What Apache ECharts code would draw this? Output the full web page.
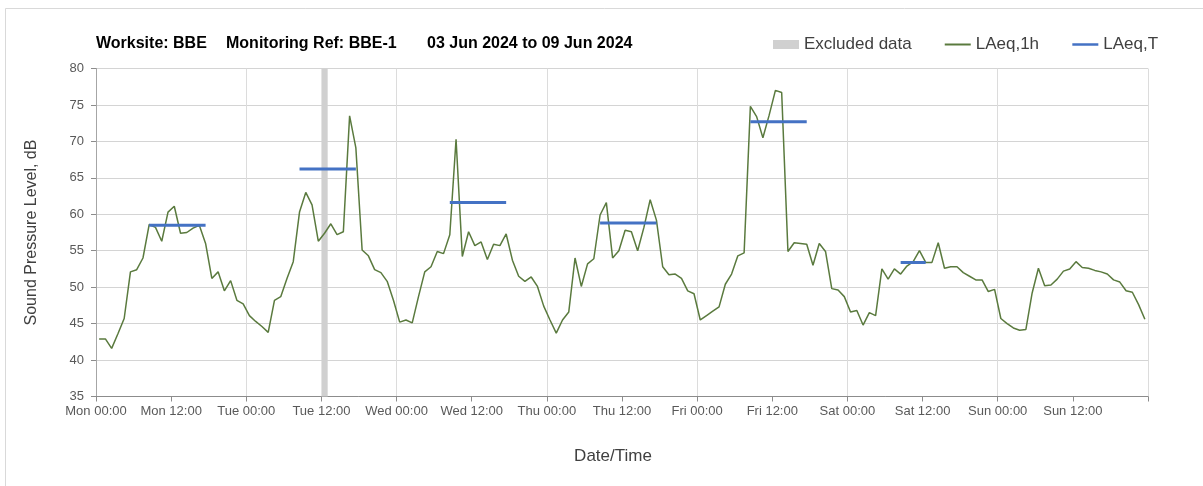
<!DOCTYPE html>
<html>
<head>
<meta charset="utf-8">
<title>BBE-1 noise monitoring</title>
<script src="https://cdn.jsdelivr.net/npm/echarts@6/dist/echarts.min.js"></script>
<style>
  html, body { margin: 0; padding: 0; background: #ffffff; }
  #chart { width: 1203px; height: 486px; }
</style>
</head>
<body>
<div id="chart"></div>
<script>
// Axis labels every 12 hours, counted from Mon 00:00
const tickLabels = [
  'Mon 00:00', 'Mon 12:00', 'Tue 00:00', 'Tue 12:00', 'Wed 00:00', 'Wed 12:00',
  'Thu 00:00', 'Thu 12:00', 'Fri 00:00', 'Fri 12:00', 'Sat 00:00', 'Sat 12:00',
  'Sun 00:00', 'Sun 12:00'
];

// Hourly LAeq,1h (dB), one value per hour from Mon 00:00 to Sun 23:00
const laeqMon = [42.9, 42.9, 41.6, 43.6, 45.7, 52.1, 52.4, 54.0, 58.6, 58.2, 56.3, 60.3,
                 61.1, 57.4, 57.5, 58.1, 58.5, 56.0, 51.2, 52.1, 49.5, 50.9, 48.2, 47.7];
const laeqTue = [46.1, 45.3, 44.6, 43.8, 48.2, 48.7, 51.2, 53.5, 60.3, 63.0, 61.3, 56.3,
                 57.4, 58.7, 57.2, 57.6, 73.5, 69.1, 55.1, 54.3, 52.4, 52.0, 50.8, 48.2];
const laeqWed = [45.2, 45.5, 45.1, 48.7, 52.1, 52.8, 54.9, 54.6, 57.2, 70.3, 54.2, 57.6,
                 55.7, 56.2, 53.8, 55.9, 55.7, 57.3, 53.7, 51.5, 50.8, 51.4, 50.1, 47.4];
const laeqThu = [45.5, 43.7, 45.5, 46.6, 54.0, 50.1, 53.2, 53.9, 59.9, 61.6, 54.0, 55.0,
                 57.8, 57.6, 55.0, 58.2, 62.0, 59.2, 52.8, 51.7, 51.8, 51.2, 49.5, 49.1];
const laeqFri = [45.5, 46.1, 46.7, 47.3, 50.4, 51.8, 54.3, 54.7, 74.8, 73.4, 70.5, 73.6,
                 77.0, 76.7, 54.9, 56.1, 56.0, 55.9, 53.0, 56.0, 54.9, 49.8, 49.6, 48.7];
const laeqSat = [46.6, 46.8, 44.8, 46.5, 46.1, 52.5, 51.1, 52.5, 51.8, 52.9, 53.5, 55.0,
                 53.4, 53.4, 56.1, 52.6, 52.8, 52.8, 52.0, 51.5, 51.0, 51.0, 49.4, 49.7];
const laeqSun = [45.7, 45.0, 44.4, 44.1, 44.2, 49.2, 52.6, 50.2, 50.3, 51.1, 52.2, 52.5,
                 53.5, 52.7, 52.6, 52.3, 52.1, 51.8, 51.0, 50.7, 49.5, 49.3, 47.6, 45.6];

// Daytime LAeq,T periods: first and last hour index, and the level (dB)
const periodStart = [8, 32, 56, 80, 104, 128];
const periodEnd   = [17, 41, 65, 89, 113, 132];
const laeqT       = [58.5, 66.2, 61.6, 58.8, 72.7, 53.4];

// Excluded data windows, hours from Mon 00:00
const excludedFrom = [36];
const excludedTo   = [37];

const laeq1h = [].concat(laeqMon, laeqTue, laeqWed, laeqThu, laeqFri, laeqSat, laeqSun);

// each hourly value is plotted at the middle of its hour
const hourlyData = laeq1h.map((v, i) => [i + 0.5, v]);

const FONT = 'Liberation Sans';
const GREEN = '#5a7a3e';
const BLUE = '#4472c4';
const GREY = '#d0d0d0';

const periodSeries = laeqT.map((v, k) => {
  const pts = [];
  for (let h = periodStart[k]; h <= periodEnd[k]; h++) pts.push([h + 0.5, v]);
  return {
    name: 'LAeq,T',
    type: 'line',
    data: pts,
    symbol: 'none',
    silent: true,
    z: 4,
    itemStyle: { color: BLUE },
    lineStyle: { color: BLUE, width: 3, cap: 'butt' }
  };
});

const chart = echarts.init(document.getElementById('chart'), null, { renderer: 'canvas' });

const titleStyle = { fontFamily: FONT, fontSize: 16, fontWeight: 'bold', color: '#000000' };

chart.setOption({
  animation: false,
  backgroundColor: '#ffffff',
  title: [
    { text: 'Worksite: BBE', left: 91, top: 31, textStyle: titleStyle },
    { text: 'Monitoring Ref: BBE-1', left: 221, top: 31, textStyle: titleStyle },
    { text: '03 Jun 2024 to 09 Jun 2024', left: 422, top: 31, textStyle: titleStyle }
  ],
  graphic: [{
    type: 'rect',
    shape: { x: 5.5, y: 8.5, width: 1220, height: 500 },
    style: { fill: 'none', stroke: '#d9d9d9', lineWidth: 1 },
    silent: true
  }],
  legend: {
    left: 768,
    top: 31,
    itemWidth: 26,
    itemHeight: 9,
    itemGap: 32,
    textStyle: { fontFamily: FONT, fontSize: 17, color: '#404040' },
    data: [
      { name: 'Excluded data', icon: 'rect', itemStyle: { color: GREY } },
      { name: 'LAeq,1h', itemStyle: { opacity: 0 } },
      { name: 'LAeq,T', itemStyle: { opacity: 0 }, lineStyle: { width: 2.5 } }
    ]
  },
  grid: { left: 96, top: 68.5, width: 1052, height: 328, containLabel: false },
  xAxis: [{
    type: 'value',
    min: 0,
    max: 168,
    interval: 12,
    name: 'Date/Time',
    nameLocation: 'middle',
    nameGap: 51,
    nameTextStyle: { fontFamily: FONT, fontSize: 17, color: '#404040', padding: [0, 18, 0, 0] },
    axisLine: { show: true, onZero: false, lineStyle: { color: '#8c8c8c', width: 1 } },
    axisTick: { show: true, length: 5, lineStyle: { color: '#8c8c8c' } },
    axisLabel: {
      margin: 8,
      fontFamily: FONT,
      fontSize: 13,
      color: '#595959',
      formatter: v => tickLabels[v / 12] || ''
    },
    splitLine: { show: false }
  }, {
    // day boundaries only
    type: 'value',
    min: 0,
    max: 168,
    interval: 24,
    position: 'bottom',
    axisLine: { show: false },
    axisTick: { show: false },
    axisLabel: { show: false },
    splitLine: { show: true, lineStyle: { color: '#dcdcdc', width: 1 } }
  }],
  yAxis: [{
    type: 'value',
    min: 35,
    max: 80,
    interval: 5,
    name: 'Sound Pressure Level, dB',
    nameLocation: 'middle',
    nameGap: 56,
    nameTextStyle: { fontFamily: FONT, fontSize: 16, color: '#404040' },
    axisLine: { show: true, lineStyle: { color: '#8c8c8c', width: 1 } },
    axisTick: { show: true, length: 5, lineStyle: { color: '#8c8c8c' } },
    axisLabel: { margin: 12, fontFamily: FONT, fontSize: 13, color: '#595959' },
    splitLine: { show: true, lineStyle: { color: '#d4d4d4', width: 1 } }
  }, {
    type: 'value',
    min: 35,
    max: 80,
    interval: 5,
    position: 'right',
    axisLine: { show: true, lineStyle: { color: '#a6a6a6', width: 1 } },
    axisTick: { show: false },
    axisLabel: { show: false },
    splitLine: { show: false }
  }],
  series: [{
    name: 'Excluded data',
    type: 'line',
    data: [],
    itemStyle: { color: GREY },
    lineStyle: { color: GREY },
    markArea: {
      silent: true,
      itemStyle: { color: GREY, opacity: 1 },
      data: excludedFrom.map((a, k) => [{ xAxis: a }, { xAxis: excludedTo[k] }])
    },
    z: 1
  }, {
    name: 'LAeq,1h',
    type: 'line',
    data: hourlyData,
    symbol: 'none',
    silent: true,
    z: 3,
    itemStyle: { color: GREEN },
    lineStyle: { color: GREEN, width: 1.5 }
  }].concat(periodSeries)
});
</script>
</body>
</html>
